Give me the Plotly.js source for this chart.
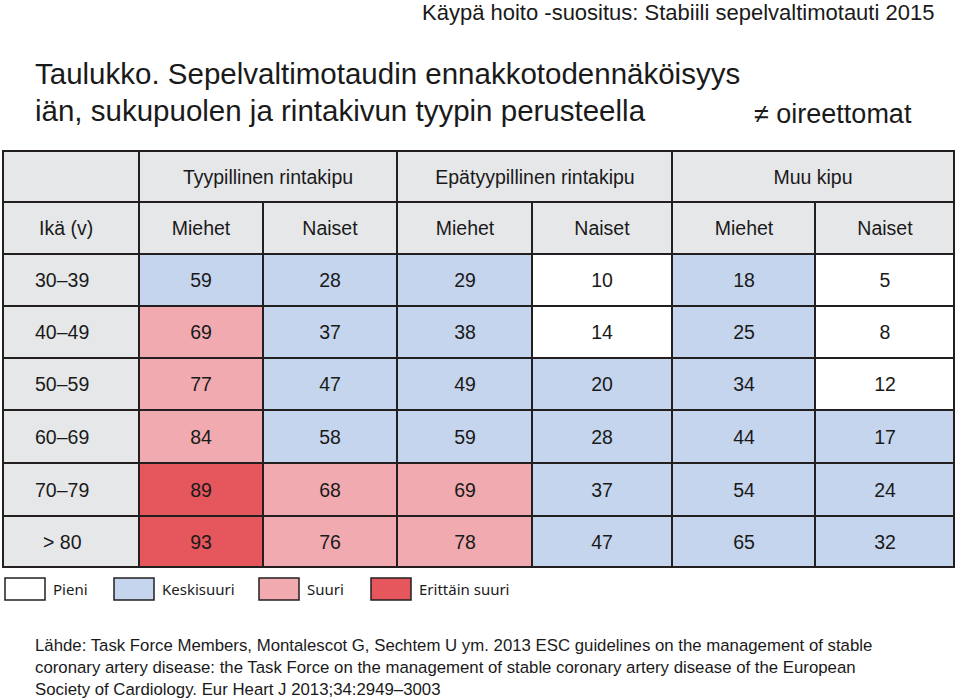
<!DOCTYPE html>
<html>
<head>
<meta charset="utf-8">
<script src="https://cdn.plot.ly/plotly-3.0.1.min.js"></script>
<style>html,body{margin:0;padding:0;background:#fff;}#chart{width:960px;height:700px;}</style>
</head>
<body>
<div id="chart"></div>
<script>
// ---- data ----
const ageGroups = ["30–39", "40–49", "50–59", "60–69", "70–79", "> 80"];
const painTypes = ["Tyypillinen rintakipu", "Epätyypillinen rintakipu", "Muu kipu"];
const sexes = ["Miehet", "Naiset"];
const ageHeader = "Ikä (v)";
// probabilities (%) by column: typical M, typical N, atypical M, atypical N, other M, other N
const typicalMen     = [59, 69, 77, 84, 89, 93];
const typicalWomen   = [28, 37, 47, 58, 68, 76];
const atypicalMen    = [29, 38, 49, 59, 69, 78];
const atypicalWomen  = [10, 14, 20, 28, 37, 47];
const otherMen       = [18, 25, 34, 44, 54, 65];
const otherWomen     = [5, 8, 12, 17, 24, 32];
// risk class per cell as shown (0 Pieni, 1 Keskisuuri, 2 Suuri, 3 Erittäin suuri)
const typicalMenClass    = [1, 2, 2, 2, 3, 3];
const typicalWomenClass  = [1, 1, 1, 1, 2, 2];
const atypicalMenClass   = [1, 1, 1, 1, 2, 2];
const atypicalWomenClass = [0, 0, 1, 1, 1, 1];
const otherMenClass      = [1, 1, 1, 1, 1, 1];
const otherWomenClass    = [0, 0, 0, 1, 1, 1];
const riskLabels = ["Pieni", "Keskisuuri", "Suuri", "Erittäin suuri"];

// ---- layout constants ----
const colors = ["#ffffff", "#c5d5ee", "#f0aab0", "#e5575c"];
const gray = "#e6e7e9";
const border = "#231f20";
const colEdges = [3, 139, 263, 397, 532, 672, 815, 954];
const groupEdges = [3, 139, 397, 672, 954];
const rowEdges = [254, 306, 358, 410, 463, 516, 567];
const head1 = [151, 202], head2 = [202, 254];
const tFont = "Liberation Sans, Arial, sans-serif";
const txt = "#1a1a1a";

const valueCols = [typicalMen, typicalWomen, atypicalMen, atypicalWomen, otherMen, otherWomen];
const classCols = [typicalMenClass, typicalWomenClass, atypicalMenClass, atypicalWomenClass, otherMenClass, otherWomenClass];
const zData = ageGroups.map((_, r) => classCols.map(c => c[r]));
const tData = ageGroups.map((_, r) => valueCols.map(c => String(c[r])));

const dscale = [[0, colors[0]], [0.25, colors[0]], [0.25, colors[1]], [0.5, colors[1]], [0.5, colors[2]], [0.75, colors[2]], [0.75, colors[3]], [1, colors[3]]];
const base = {type: "heatmap", showscale: false, hoverinfo: "skip", xgap: 2, ygap: 2,
  texttemplate: "%{text}", textfont: {family: tFont, size: 19.5, color: txt}};

const traces = [
  {type: "heatmap", showscale: false, hoverinfo: "skip", x: [colEdges[0] - 1, colEdges[7] + 1], y: [head1[0] - 1, rowEdges[6] + 1], z: [[1]], colorscale: [[0, border], [1, border]]},
  Object.assign({}, base, {x: groupEdges, y: head1, z: [[0, 0, 0, 0]], text: [[""].concat(painTypes)], colorscale: [[0, gray], [1, gray]], zmin: 0, zmax: 1}),
  Object.assign({}, base, {x: colEdges.slice(1), y: head2, z: [[0, 0, 0, 0, 0, 0]], text: [sexes.concat(sexes, sexes)], colorscale: [[0, gray], [1, gray]], zmin: 0, zmax: 1}),
  Object.assign({}, base, {x: colEdges.slice(0, 2), y: [head2[0]].concat(rowEdges), z: [[0]].concat(ageGroups.map(() => [0])), colorscale: [[0, gray], [1, gray]], zmin: 0, zmax: 1, texttemplate: ""}),
  Object.assign({}, base, {x: colEdges.slice(1), y: rowEdges, z: zData, text: tData, colorscale: dscale, zmin: -0.5, zmax: 3.5})
];

const legX = [5, 114, 259, 371];
const shapes = riskLabels.map((_, i) => ({type: "rect", xref: "x", yref: "y", x0: legX[i], x1: legX[i] + 40, y0: 578, y1: 600,
  fillcolor: colors[i], line: {color: border, width: 1.5}, layer: "above"}));
const titleFont = "Liberation Sans Narrow, Arial Narrow, Liberation Sans, sans-serif";
const srcFont = {family: tFont, size: 16.8, color: txt};
const annotations = [
  {text: "Käypä hoito -suositus: Stabiili sepelvaltimotauti 2015", x: 936, y: 12, xanchor: "right", yanchor: "middle",
   font: {family: titleFont, size: 22, color: txt}},
  {text: "Taulukko. Sepelvaltimotaudin ennakkotodennäköisyys", x: 33, y: 73, xanchor: "left", yanchor: "middle",
   font: {family: titleFont, size: 29.5, color: txt}},
  {text: "iän, sukupuolen ja rintakivun tyypin perusteella", x: 33, y: 110, xanchor: "left", yanchor: "middle",
   font: {family: titleFont, size: 29.5, color: txt}},
  {text: "≠ oireettomat", x: 914, y: 114, xanchor: "right", yanchor: "middle",
   font: {family: titleFont, size: 27, color: txt}},
  {text: "Lähde: Task Force Members, Montalescot G, Sechtem U ym. 2013 ESC guidelines on the management of stable", x: 33, y: 645, xanchor: "left", yanchor: "middle", font: srcFont},
  {text: "coronary artery disease: the Task Force on the management of stable coronary artery disease of the European", x: 33, y: 667, xanchor: "left", yanchor: "middle", font: srcFont},
  {text: "Society of Cardiology. Eur Heart J 2013;34:2949–3003", x: 33, y: 689, xanchor: "left", yanchor: "middle", font: srcFont},
  {text: ageHeader, x: 66, y: (head2[0] + head2[1]) / 2, xanchor: "center", yanchor: "middle", font: {family: tFont, size: 19.5, color: txt}}
].concat(ageGroups.map((a, i) => ({text: a, x: 62, y: (rowEdges[i] + rowEdges[i + 1]) / 2, xanchor: "center", yanchor: "middle",
   font: {family: tFont, size: 19.5, color: txt}})))
 .concat(riskLabels.map((t, i) => ({text: t, x: legX[i] + 46, y: 589, xanchor: "left", yanchor: "middle",
   font: {family: "Noto Sans, Open Sans, sans-serif", size: 15, color: txt}})));
annotations.forEach(a => { a.xref = "x"; a.yref = "y"; a.showarrow = false; });

const layout = {
  width: 960, height: 700, margin: {l: 0, r: 0, t: 0, b: 0}, paper_bgcolor: "#fff", plot_bgcolor: "#fff",
  xaxis: {range: [0, 960], visible: false, fixedrange: true},
  yaxis: {range: [700, 0], visible: false, fixedrange: true},
  showlegend: false, shapes: shapes, annotations: annotations
};
Plotly.newPlot("chart", traces, layout, {staticPlot: true});
</script>
</body>
</html>
